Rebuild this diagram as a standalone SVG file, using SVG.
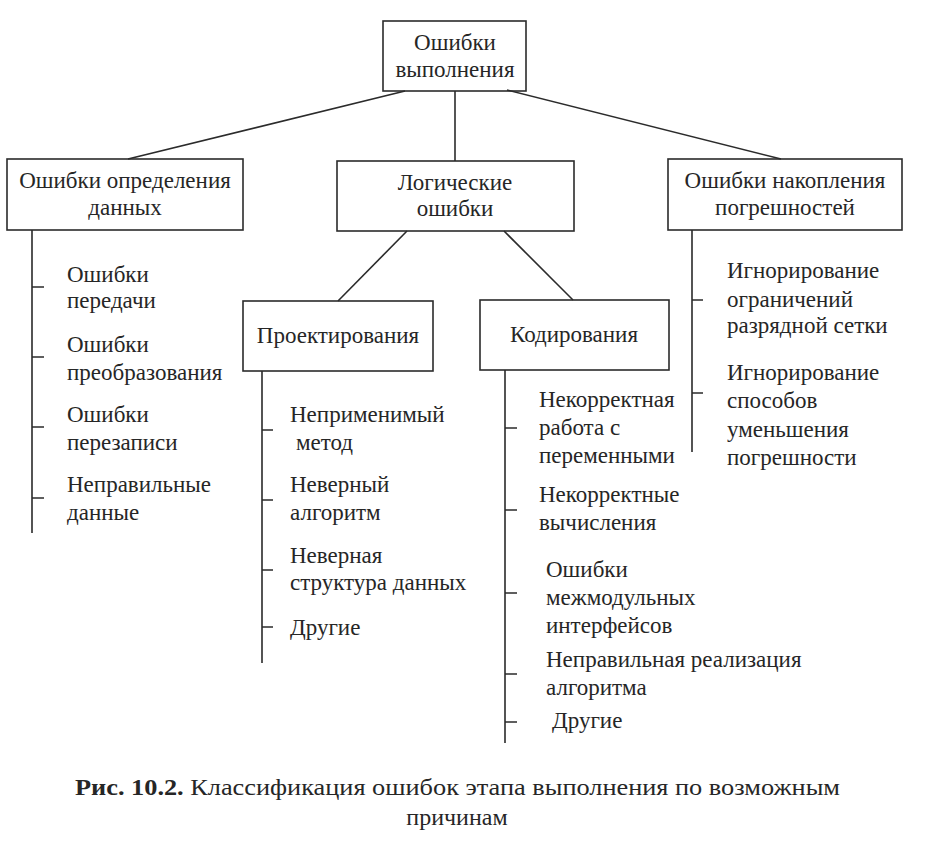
<svg xmlns="http://www.w3.org/2000/svg" width="928" height="846" viewBox="0 0 928 846">
<style>
.box{fill:none;stroke:#2b2b2b;stroke-width:1.6}
.ln{fill:none;stroke:#2b2b2b;stroke-width:1.6}
text{font-family:"Liberation Serif","Times New Roman",serif;font-size:23px;fill:#262626}
.c{text-anchor:middle}
.cap{font-size:24px}
</style>
<rect width="928" height="846" fill="#ffffff"/>
<g id="connectors">
<line class="ln" x1="405" y1="91" x2="128" y2="159"/>
<line class="ln" x1="455" y1="91" x2="455" y2="161"/>
<line class="ln" x1="507" y1="90" x2="781" y2="159"/>
<line class="ln" x1="407" y1="231" x2="338" y2="301"/>
<line class="ln" x1="504" y1="231" x2="573" y2="300"/>
<path class="ln" d="M32 230V533M32 287H44M32 357H44M32 427H44M32 498H44"/>
<path class="ln" d="M262 371V663M262 430H273M262 500H273M262 570H273M262 627H273"/>
<path class="ln" d="M505 370V743M505 428H517M505 510H517M505 593H517M505 674H517M505 722H517"/>
<path class="ln" d="M692 230V452M692 300H703M692 393H703"/>
</g>
<g id="n-root">
<rect class="box" x="383" y="21" width="143" height="70"/>
<text class="c" x="455" y="50">Ошибки</text>
<text class="c" x="455" y="77">выполнения</text>
</g>
<g id="n-data">
<rect class="box" x="7" y="159" width="236" height="71"/>
<text class="c" x="125" y="188">Ошибки определения</text>
<text class="c" x="125" y="215">данных</text>
</g>
<g id="n-logic">
<rect class="box" x="337" y="161" width="237" height="70"/>
<text class="c" x="455" y="190">Логические</text>
<text class="c" x="455" y="216">ошибки</text>
</g>
<g id="n-accum">
<rect class="box" x="668" y="159" width="234" height="71"/>
<text class="c" x="785" y="188">Ошибки накопления</text>
<text class="c" x="785" y="215">погрешностей</text>
</g>
<g id="n-design">
<rect class="box" x="243" y="301" width="190" height="70"/>
<text class="c" x="338" y="343">Проектирования</text>
</g>
<g id="n-coding">
<rect class="box" x="480" y="300" width="189" height="70"/>
<text class="c" x="574" y="342">Кодирования</text>
</g>
<g id="l-data">
<text x="67" y="282">Ошибки</text>
<text x="67" y="308">передачи</text>
<text x="67" y="352">Ошибки</text>
<text x="67" y="380">преобразования</text>
<text x="67" y="422">Ошибки</text>
<text x="67" y="450">перезаписи</text>
<text x="67" y="492">Неправильные</text>
<text x="67" y="520">данные</text>
</g>
<g id="l-design">
<text x="290" y="422">Неприменимый</text>
<text x="296" y="450">метод</text>
<text x="290" y="492">Неверный</text>
<text x="290" y="520">алгоритм</text>
<text x="290" y="563">Неверная</text>
<text x="290" y="590">структура данных</text>
<text x="290" y="635">Другие</text>
</g>
<g id="l-coding">
<text x="539" y="407">Некорректная</text>
<text x="539" y="435">работа с</text>
<text x="539" y="463">переменными</text>
<text x="539" y="502">Некорректные</text>
<text x="539" y="530">вычисления</text>
<text x="546" y="577">Ошибки</text>
<text x="546" y="605">межмодульных</text>
<text x="546" y="633">интерфейсов</text>
<text x="546" y="667">Неправильная реализация</text>
<text x="546" y="695">алгоритма</text>
<text x="552" y="728">Другие</text>
</g>
<g id="l-accum">
<text x="727" y="278">Игнорирование</text>
<text x="727" y="307">ограничений</text>
<text x="727" y="333">разрядной сетки</text>
<text x="727" y="380">Игнорирование</text>
<text x="727" y="408">способов</text>
<text x="727" y="437">уменьшения</text>
<text x="727" y="465">погрешности</text>
</g>
<g id="caption">
<text class="cap" x="75" y="795" textLength="765" lengthAdjust="spacingAndGlyphs"><tspan font-weight="bold">Рис. 10.2.</tspan> Классификация ошибок этапа выполнения по возможным</text>
<text class="cap c" x="457" y="825">причинам</text>
</g>
</svg>
